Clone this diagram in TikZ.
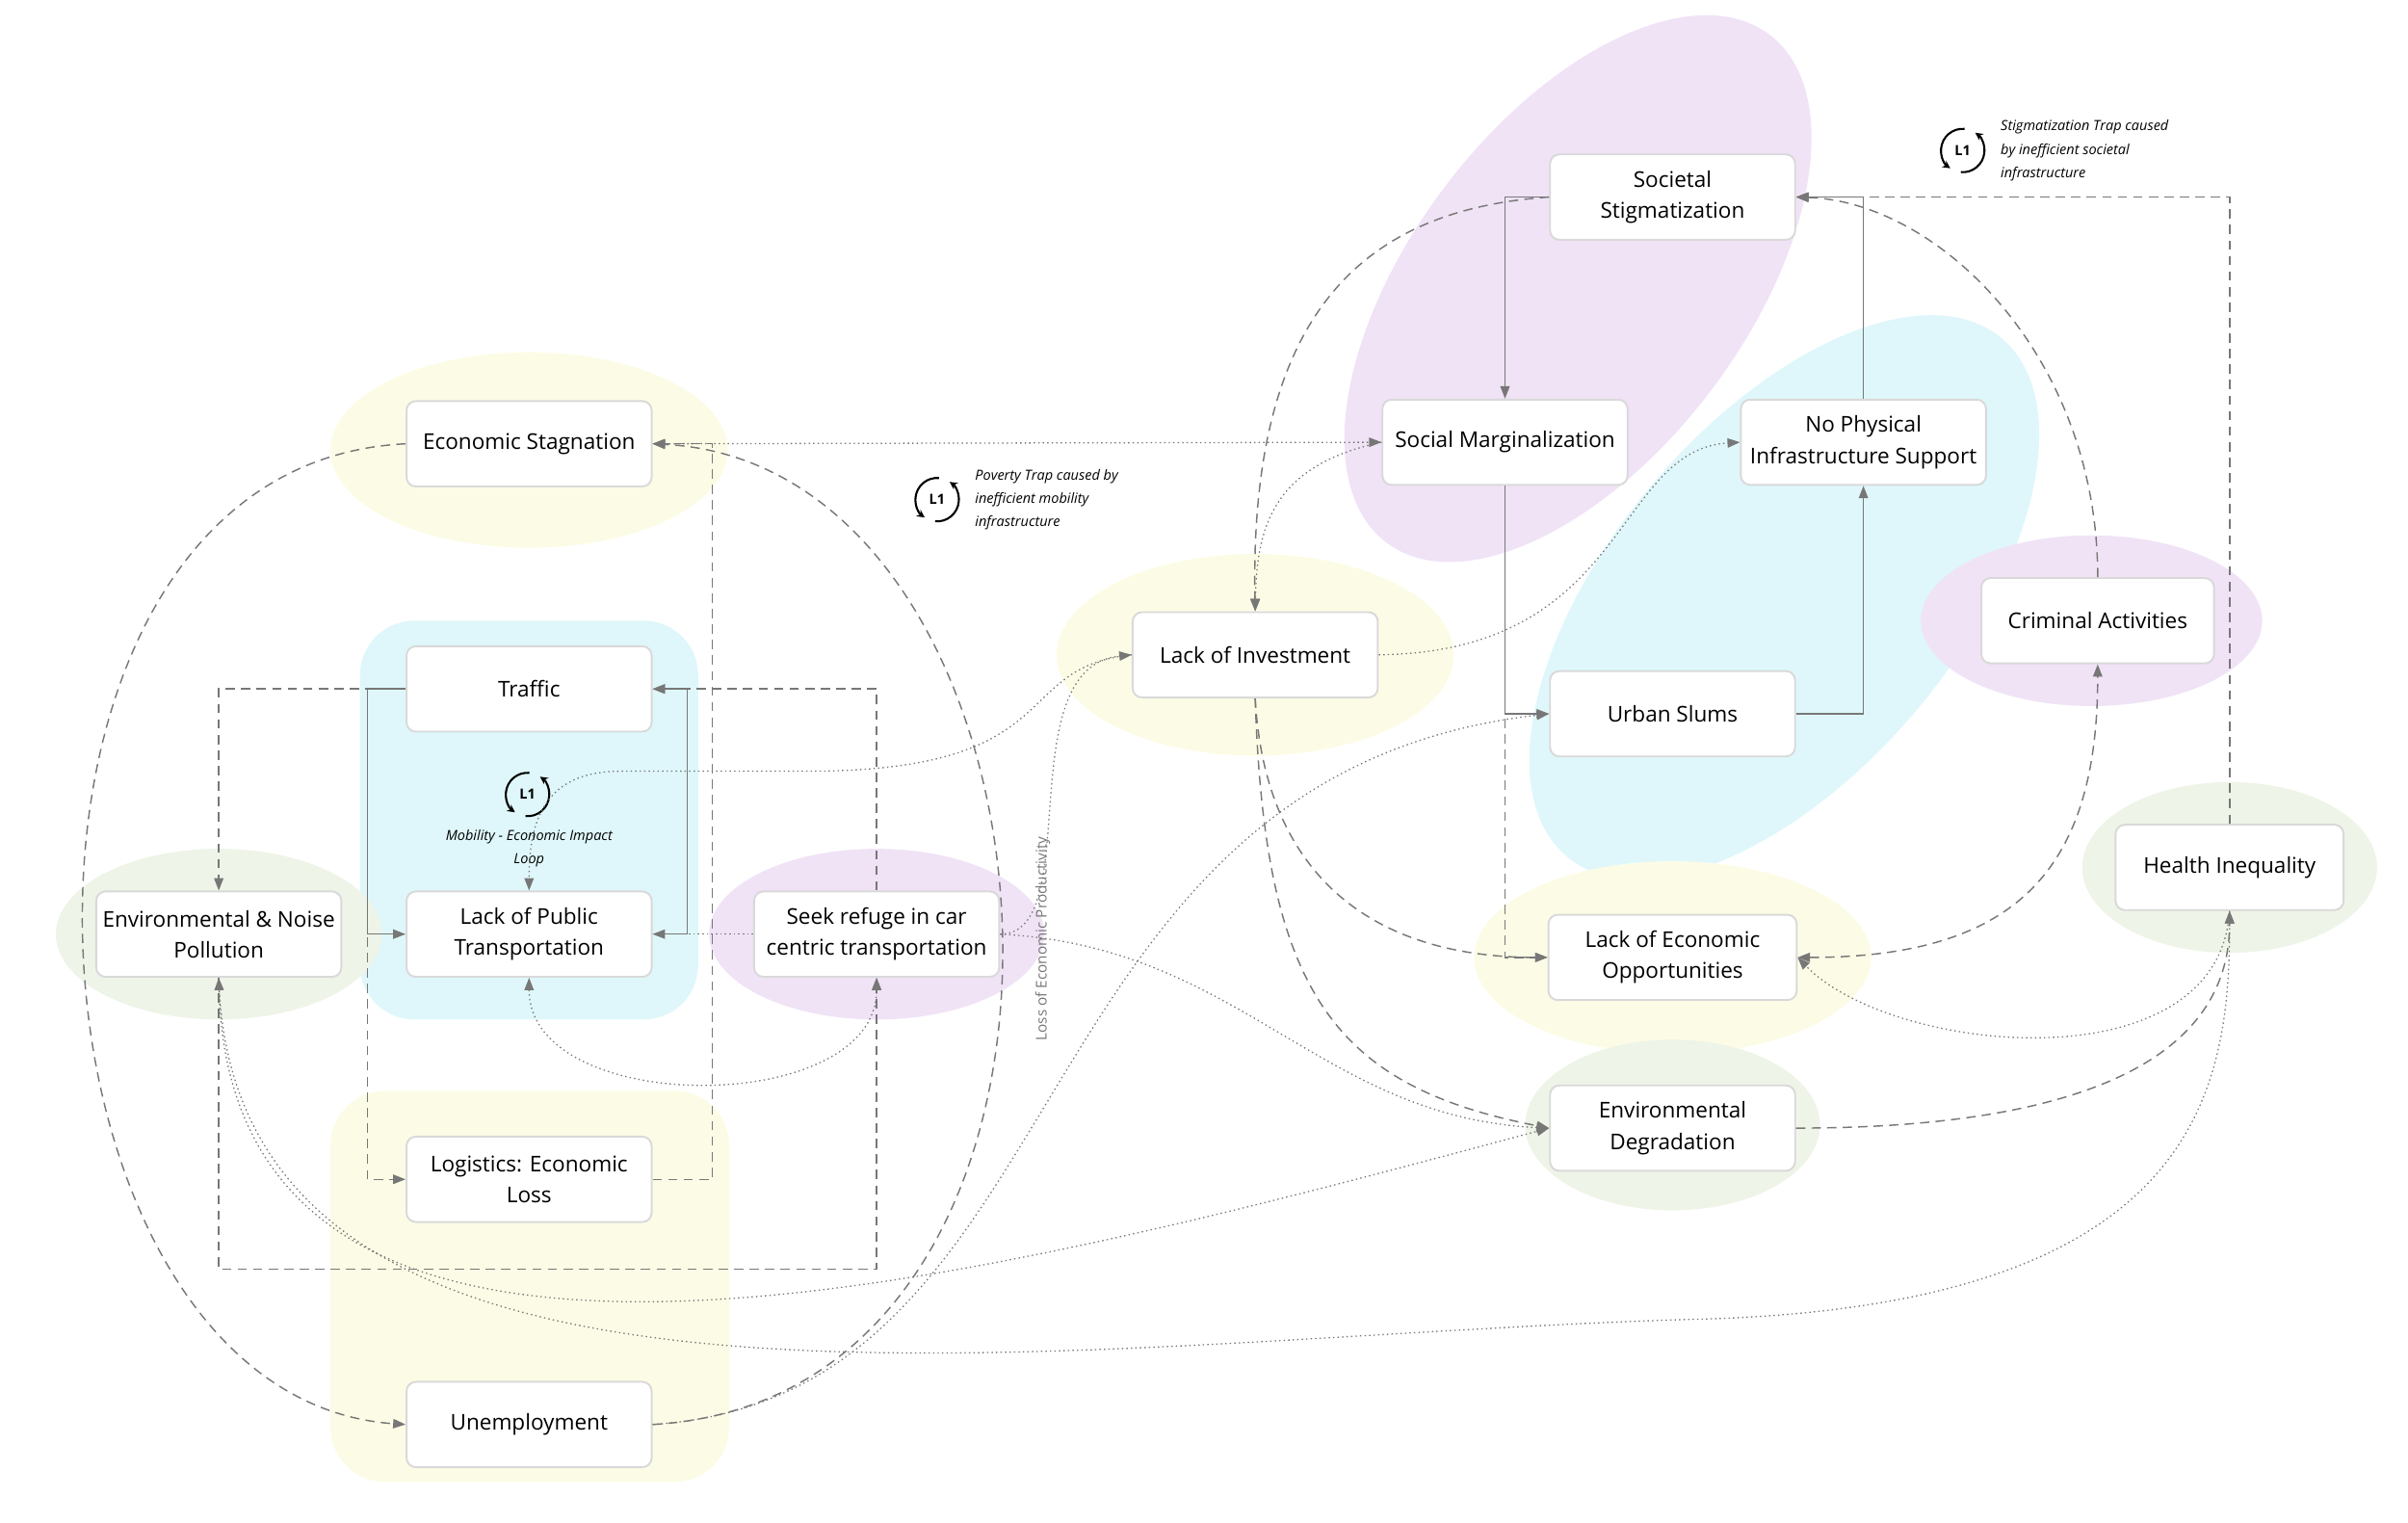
\documentclass[tikz,border=0pt]{standalone}
\usepackage{fontspec}
\setmainfont{Open Sans}
\usetikzlibrary{arrows.meta,calc}
\definecolor{ln}{HTML}{777777}
\definecolor{byel}{HTML}{FCFCE6}
\definecolor{bcya}{HTML}{DFF7FA}
\definecolor{bpur}{HTML}{F0E3F6}
\definecolor{bgrn}{HTML}{EEF4E7}
\begin{document}
\begin{tikzpicture}[x=1pt,y=-1pt,
  box/.style={draw=black!15,line width=1.2pt,fill=white,rounded corners=6pt,minimum width=158pt,minimum height=55pt,align=center,font=\fontsize{14}{20}\selectfont},
  con/.style={draw=ln,line width=0.9pt,-{Triangle[length=8pt,width=6pt]}},
  sol/.style={con},
  dsh/.style={con,dash pattern=on 6pt off 4pt},
  dot/.style={con,dotted,line width=0.8pt},
  note/.style={font=\fontsize{9}{15}\selectfont\itshape,align=left},
  loopic/.pic={
    \draw[line width=1.3pt,-{Stealth[length=5pt,width=5pt]}] (85:14pt) arc (85:235:14pt);
    \draw[line width=1.3pt,-{Stealth[length=5pt,width=5pt]}] (265:14pt) arc (265:415:14pt);
    \node[font=\fontsize{9}{10}\selectfont\bfseries] at (0,0) {L1};}
  ]
\useasboundingbox (0,0) rectangle (1552,981);
% backgrounds
\fill[byel] (341,290) ellipse (128 and 63);
\fill[bcya,rounded corners=35pt] (232,400) rectangle (450,657);
\fill[bgrn] (141,602) ellipse (105 and 55);
\fill[bpur] (565,602) ellipse (108 and 55);
\fill[byel,rounded corners=35pt] (213,703) rectangle (470,955);
\fill[byel] (809,422) ellipse (128 and 65);
\fill[bpur,rotate around={53:(1017,186)}] (1017,186) ellipse (205 and 108);
\fill[bcya,rotate around={50:(1150,385)}] (1150,385) ellipse (218 and 112);
\fill[bpur] (1348,400) ellipse (110 and 55);
\fill[bgrn] (1437,559) ellipse (95 and 55);
\fill[byel] (1078,617) ellipse (128 and 62);
\fill[bgrn] (1078,725) ellipse (95 and 55);
% nodes
\node[box] (econ) at (341,286) {Economic Stagnation};
\node[box] (traf) at (341,444) {Traffic};
\node[box] (pub) at (341,602) {Lack of Public\\Transportation};
\node[box] (env) at (141,602) {Environmental \& Noise\\Pollution};
\node[box] (seek) at (565,602) {Seek refuge in car\\centric transportation};
\node[box] (log) at (341,760) {Logistics: Economic\\Loss};
\node[box] (unemp) at (341,918) {Unemployment};
\node[box] (inv) at (809,422) {Lack of Investment};
\node[box] (soc) at (1078,127) {Societal\\Stigmatization};
\node[box] (socm) at (970,285) {Social Marginalization};
\node[box] (noph) at (1201,285) {No Physical\\Infrastructure Support};
\node[box] (slum) at (1078,460) {Urban Slums};
\node[box,minimum width=150pt] (crim) at (1352,400) {Criminal Activities};
\node[box,minimum width=160pt] (leo) at (1078,617) {Lack of Economic\\Opportunities};
\node[box] (envd) at (1078,727) {Environmental\\Degradation};
\node[box,minimum width=147pt] (hlth) at (1437,559) {Health Inequality};
% loop icons
\pic at (340,512) {loopic};
\node[note,align=center] (l1t) at (341,547) {Mobility - Economic Impact\\Loop};
\pic at (604,322) {loopic};
\node[note,anchor=west] (l2t) at (625,322) {Poverty Trap caused by\\inefficient mobility\\infrastructure};
\pic at (1265,97) {loopic};
\node[note,anchor=west] (l3t) at (1286,97) {Stigmatization Trap caused\\by inefficient societal\\infrastructure};
\coordinate (lx) at (237,444);
\coordinate (rx) at (443,602);
% solid
\draw[sol] (soc.west) -| (socm.north);
\draw[sol] (socm.south) |- (slum.west);
\draw[sol] (slum.east) -| (noph.south);
\draw[sol] (noph.north) |- (soc.east);
\draw[sol] (traf.west) -- (lx) |- (pub.west);
\draw[sol] (pub.east) -- (rx) |- (traf.east);
% dashed
\draw[dsh] (hlth.north) |- (soc.east);
\draw[dsh] (soc.west) .. controls (880,135) and (805,200) .. (inv.north);
\draw[dsh] (socm.south) |- (leo.west);
\draw[dsh] (inv.south) .. controls (815,560) and (880,617) .. (leo.west);
\draw[dsh] (inv.south) .. controls (815,640) and (860,700) .. (envd.west);
\draw[dsh] (crim.north) .. controls (1352,230) and (1250,130) .. (soc.east);
\draw[dsh,{Triangle[length=8pt,width=6pt]}-{Triangle[length=8pt,width=6pt]}] (leo.east) .. controls (1300,617) and (1352,560) .. (crim.south);
\draw[dsh] (envd.east) .. controls (1300,727) and (1437,700) .. (hlth.south);
\draw[dsh] (econ.west) .. controls (-30,300) and (0,900) .. (unemp.west);
\draw[dsh] (unemp.east) .. controls (740,900) and (700,300) .. (econ.east);
\node[rotate=90,font=\fontsize{9.5}{10}\selectfont,text=ln] (lep) at (672,605) {Loss of Economic Productivity};
\draw[dsh] (seek.north) |- (traf.east);
\draw[dsh] (traf.west) -| (env.north);
\draw[dsh] (lx) |- (log.west);
\draw[dsh] (log.east) -| (459,286) -- (econ.east);
\draw[dsh] (env.south) |- (565,818) -- (seek.south);
% dotted
\draw[dot,{Triangle[length=8pt,width=6pt]}-{Triangle[length=8pt,width=6pt]}] (econ.east) -- (socm.west);
\draw[dot] (socm.west) .. controls (820,300) and (810,340) .. (inv.north);
\draw[dot] (inv.east) .. controls (1050,420) and (1040,290) .. (noph.west);
\draw[dot] (hlth.south) .. controls (1430,700) and (1220,680) .. (leo.east);
\draw[dot] (env.south) .. controls (150,960) and (700,860) .. (1100,850) .. controls (1420,840) and (1437,700) .. (hlth.south);
\draw[dot,{Triangle[length=8pt,width=6pt]}-{Triangle[length=8pt,width=6pt]}] (env.south) .. controls (150,960) and (650,820) .. (envd.west);
\draw[dot] (unemp.east) .. controls (700,900) and (650,500) .. (slum.west);
\draw[dot] (inv.west) .. controls (650,430) and (690,497) .. (520,497) -- (400,497) .. controls (350,497) and (341,530) .. (pub.north);
\draw[dot] (seek.east) .. controls (700,602) and (650,430) .. (inv.west);
\draw[dot] (seek.east) .. controls (800,610) and (850,720) .. (envd.west);
\draw[dot] (seek.west) -- (pub.east);
\draw[dot,{Triangle[length=8pt,width=6pt]}-{Triangle[length=8pt,width=6pt]}] (pub.south) .. controls (341,720) and (565,720) .. (seek.south);
\end{tikzpicture}
\end{document}
